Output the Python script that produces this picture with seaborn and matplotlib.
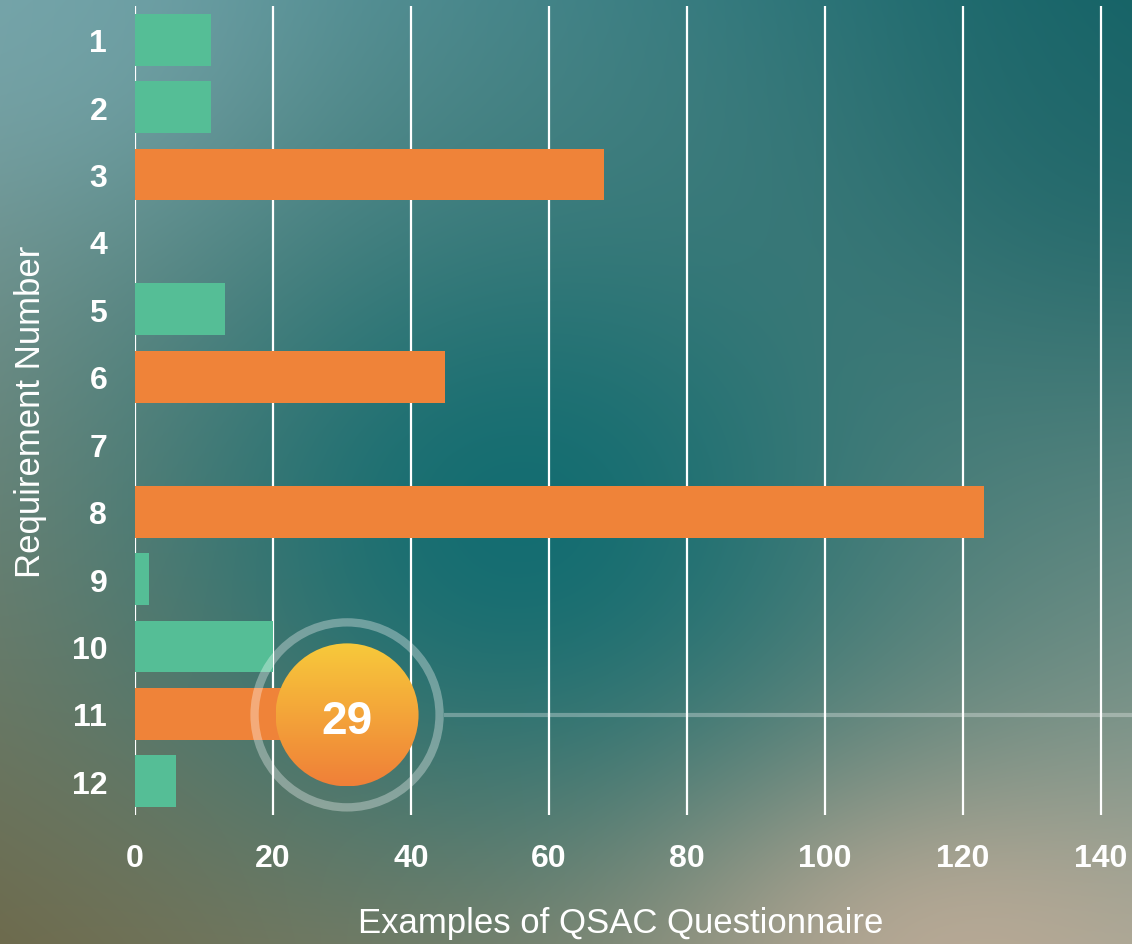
import numpy as np
import pandas as pd
import matplotlib
matplotlib.use("Agg")
import matplotlib.pyplot as plt
from matplotlib.patches import Circle
import seaborn as sns

# ---- data ----
requirements = ["1", "2", "3", "4", "5", "6", "7", "8", "9", "10", "11", "12"]
examples = [11, 11, 68, 0, 13, 45, 0, 123, 2, 20, 29, 6]
groups = ["low", "low", "high", "low", "low", "high", "low", "high", "low", "low", "high", "low"]
highlight_req = "11"
xticks = [0, 20, 40, 60, 80, 100, 120, 140]

GREEN = "#55BE96"
ORANGE = "#EF8339"

df = pd.DataFrame({"req": requirements, "value": examples, "group": groups})

sns.set_theme(style="white")
plt.rcParams["font.family"] = ["Liberation Sans", "DejaVu Sans"]

W, H = 1132, 945
fig = plt.figure(figsize=(W / 100, H / 100), dpi=100)

# ---- background gradient ----
bg = fig.add_axes([0, 0, 1, 1], zorder=-10)
yy, xx = np.mgrid[0:H, 0:W]
u = xx / (W - 1)
v = yy / (H - 1)
TL = np.array([0.46, 0.64, 0.66])
TR = np.array([0.09, 0.40, 0.41])
BL = np.array([0.44, 0.42, 0.30])
BR = np.array([0.62, 0.64, 0.58])
img = ((1 - u)[..., None] * (1 - v)[..., None] * TL + u[..., None] * (1 - v)[..., None] * TR
       + (1 - u)[..., None] * v[..., None] * BL + u[..., None] * v[..., None] * BR)
def blob(cx, cy, sx, sy, col, strength):
    global img
    w = strength * np.exp(-(((xx - cx) / sx) ** 2 + ((yy - cy) / sy) ** 2))
    img = img * (1 - w[..., None]) + np.array(col) * w[..., None]
blob(520, 520, 380, 330, [0.05, 0.42, 0.44], 0.92)
blob(950, 960, 260, 170, [0.76, 0.68, 0.60], 0.75)
blob(1100, 120, 250, 250, [0.09, 0.38, 0.40], 0.5)
blob(60, 40, 200, 160, [0.46, 0.65, 0.67], 0.5)
bg.imshow(np.clip(img, 0, 1), aspect="auto", extent=[0, W, H, 0])
bg.set_axis_off()

# ---- main axes ----
left, right, top, bottom = 135, 1107, 7, 816
ax = fig.add_axes([left / W, (H - bottom) / H, (right - left) / W, (bottom - top) / H])
ax.set_facecolor((0, 0, 0, 0))
sns.barplot(data=df, y="req", x="value", hue="group", order=requirements,
            palette={"low": GREEN, "high": ORANGE}, orient="h", dodge=False,
            width=0.77, legend=False, ax=ax, zorder=3, saturation=1, linewidth=0)
ax.set_xlim(0, 140.9)
ax.set_ylim(11.5, -0.5)
ax.set_xticks(xticks)
ax.set_xticklabels([str(t) for t in xticks])
ax.grid(axis="x", color="white", linewidth=1.6, zorder=0)
ax.grid(axis="y", visible=False)
ax.set_axisbelow(True)
for s in ax.spines.values():
    s.set_visible(False)
ax.tick_params(axis="both", length=0, colors="white", labelsize=23)
ax.tick_params(axis="y", pad=20)
ax.tick_params(axis="x", pad=20)
for lab in ax.get_xticklabels() + ax.get_yticklabels():
    lab.set_fontweight("bold")

ax.set_xlabel("Examples of QSAC Questionnaire", fontsize=25, color="white")
ax.set_ylabel("Requirement Number", fontsize=25, color="white")
ax.xaxis.label.set_va("center")
ax.xaxis.set_label_coords(0.5, -0.133)
ax.yaxis.label.set_va("center")
ax.yaxis.set_label_coords(-0.107, 0.5)

# ---- highlight annotation ----
idx = requirements.index(highlight_req)
val = examples[idx]
dx, dy = ax.transData.transform((val, idx))
cx, cy = dx + 12, H - dy + 1

ov = fig.add_axes([0, 0, 1, 1], zorder=5)
ov.set_facecolor((0, 0, 0, 0))
ov.set_axis_off()

r_in, r_ring = 71.5, 92.5
ov.plot([cx + r_ring + 4, W], [cy, cy], color="white", alpha=0.3, lw=3, solid_capstyle="butt")
ov.add_patch(Circle((cx, cy), r_ring, fill=False, edgecolor=(1, 1, 1, 0.33), lw=6))
grad = np.linspace(0, 1, 200)[:, None] * np.ones((1, 10))
top_c = np.array([0.97, 0.79, 0.23])
bot_c = np.array([0.94, 0.50, 0.22])
gimg = top_c * (1 - grad[..., None]) + bot_c * grad[..., None]
im = ov.imshow(gimg, extent=[cx - r_in, cx + r_in, cy + r_in, cy - r_in], aspect="auto")
clip = Circle((cx, cy), r_in, transform=ov.transData)
im.set_clip_path(clip)
ov.text(cx, cy + 6, str(val), color="white", fontsize=33, fontweight="bold",
        ha="center", va="center")
ov.set_xlim(0, W)
ov.set_ylim(H, 0)

fig.savefig("out.png", dpi=100)
